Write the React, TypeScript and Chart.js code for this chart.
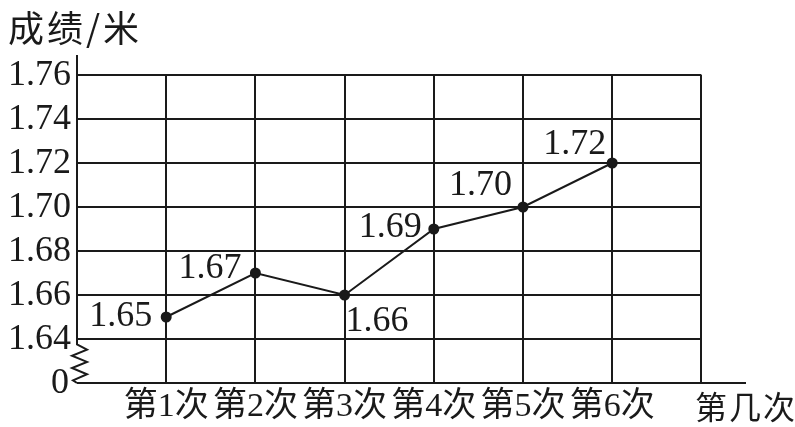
import { useEffect, useRef } from 'react';
import { Chart, registerables } from 'chart.js';

Chart.register(...registerables);

const CATEGORIES = ['第1次', '第2次', '第3次', '第4次', '第5次', '第6次'];
const SCORES = [1.65, 1.67, 1.66, 1.69, 1.7, 1.72];
const SCORE_LABELS = ['1.65', '1.67', '1.66', '1.69', '1.70', '1.72'];
const Y_TICKS = [1.64, 1.66, 1.68, 1.7, 1.72, 1.74, 1.76];
const Y_TICK_LABELS = ['1.64', '1.66', '1.68', '1.70', '1.72', '1.74', '1.76'];
const Y_BREAK_VALUE = 1.62;
const Y_BREAK_LABEL = '0';
const Y_TITLE = '成绩/米';
const X_TITLE = '第几次';

// label placement relative to each point: [dx, dy, align]
const LABEL_PLACEMENT: [number, number, CanvasTextAlign][] = [
  [-14, 0, 'right'],
  [-14, -4, 'right'],
  [1, 27, 'left'],
  [-12, -1, 'right'],
  [-11, -21, 'right'],
  [-6, -18, 'right'],
];

const INK = '#1a1a1a';
const NUM_FONT = '36px "Liberation Serif", "Noto Sans CJK SC", serif';
const CAT_FONT = '34px "Liberation Serif", "Noto Sans CJK SC", serif';

const gridPlugin = {
  id: 'gridPlugin',
  beforeDatasetsDraw(chart: any) {
    const { ctx, scales, chartArea } = chart;
    const x = scales.x;
    const y = scales.y;
    const x0 = x.getPixelForValue(0);
    const xEnd = x.getPixelForValue(CATEGORIES.length + 1);
    const yTop = y.getPixelForValue(Y_TICKS[Y_TICKS.length - 1]);
    const yBase = y.getPixelForValue(Y_BREAK_VALUE);
    const yFirst = y.getPixelForValue(Y_TICKS[0]);
    ctx.save();
    ctx.strokeStyle = INK;
    ctx.lineWidth = 2;
    ctx.lineCap = 'butt';
    // horizontal grid
    Y_TICKS.forEach((v) => {
      const py = Math.round(y.getPixelForValue(v));
      ctx.beginPath();
      ctx.moveTo(x0, py);
      ctx.lineTo(xEnd, py);
      ctx.stroke();
    });
    // vertical grid
    for (let i = 1; i <= CATEGORIES.length + 1; i++) {
      const px = Math.round(x.getPixelForValue(i));
      ctx.beginPath();
      ctx.moveTo(px, yTop);
      ctx.lineTo(px, yBase);
      ctx.stroke();
    }
    // x axis
    ctx.beginPath();
    ctx.moveTo(x0, yBase);
    ctx.lineTo(chartArea.right, yBase);
    ctx.stroke();
    // y axis with break
    const h = yBase - yFirst;
    ctx.beginPath();
    ctx.moveTo(x0, chartArea.top);
    ctx.lineTo(x0, yFirst + h * 0.12);
    ctx.lineTo(x0 + 10, yFirst + h * 0.24);
    ctx.lineTo(x0 - 5, yFirst + h * 0.38);
    ctx.lineTo(x0 + 10, yFirst + h * 0.52);
    ctx.lineTo(x0 - 5, yFirst + h * 0.66);
    ctx.lineTo(x0 + 10, yFirst + h * 0.8);
    ctx.lineTo(x0 - 4, yFirst + h * 0.94);
    ctx.lineTo(x0, yBase);
    ctx.stroke();

    // y tick labels
    ctx.fillStyle = INK;
    ctx.font = NUM_FONT;
    ctx.textAlign = 'right';
    ctx.textBaseline = 'middle';
    Y_TICKS.forEach((v, i) => {
      ctx.fillText(Y_TICK_LABELS[i], x0 - 6, y.getPixelForValue(v) + 1);
    });
    ctx.fillText(Y_BREAK_LABEL, x0 - 8, yBase + 1);

    // y title
    ctx.textAlign = 'left';
    ctx.font = '36px "Noto Sans CJK SC", sans-serif';
    (ctx as any).letterSpacing = '3px';
    ctx.fillText(Y_TITLE, 8, 28);
    (ctx as any).letterSpacing = '0px';

    // x category labels
    ctx.font = CAT_FONT;
    ctx.textAlign = 'center';
    CATEGORIES.forEach((c, i) => {
      ctx.fillText(c, x.getPixelForValue(i + 1), yBase + 24);
    });
    ctx.font = '32px "Noto Sans CJK SC", sans-serif';
    (ctx as any).letterSpacing = '2px';
    ctx.fillText(X_TITLE, chartArea.right, yBase + 24);
    (ctx as any).letterSpacing = '0px';
    ctx.restore();
  },
  afterDatasetsDraw(chart: any) {
    const { ctx, scales } = chart;
    const x = scales.x;
    const y = scales.y;
    ctx.save();
    ctx.fillStyle = INK;
    ctx.font = NUM_FONT;
    ctx.textBaseline = 'middle';
    SCORES.forEach((v, i) => {
      const [dx, dy, align] = LABEL_PLACEMENT[i];
      ctx.textAlign = align;
      ctx.fillText(SCORE_LABELS[i], x.getPixelForValue(i + 1) + dx, y.getPixelForValue(v) + dy);
    });
    ctx.restore();
  },
};

export default function App() {
  const ref = useRef<HTMLCanvasElement>(null);
  useEffect(() => {
    if (!ref.current) return;
    const chart = new Chart(ref.current, {
      type: 'line',
      data: {
        datasets: [
          {
            data: SCORES.map((v, i) => ({ x: i + 1, y: v })),
            borderColor: INK,
            borderWidth: 2,
            pointRadius: 4.5,
            pointBackgroundColor: INK,
            pointBorderColor: INK,
            tension: 0,
          },
        ],
      },
      options: {
        responsive: false,
        animation: false,
        devicePixelRatio: 1,
        layout: { padding: { left: 77, right: 49, top: 55, bottom: 44 } },
        scales: {
          x: { type: 'linear', min: 0, max: 7.5, display: false },
          y: { type: 'linear', min: 1.62, max: 1.7691, display: false },
        },
        plugins: { legend: { display: false }, tooltip: { enabled: false } },
      },
      plugins: [gridPlugin],
    });
    return () => chart.destroy();
  }, []);
  return (
    <div style={{ position: 'fixed', left: 0, top: 0, width: 795, height: 427, background: '#fff' }}>
      <canvas ref={ref} width={795} height={427} />
    </div>
  );
}
